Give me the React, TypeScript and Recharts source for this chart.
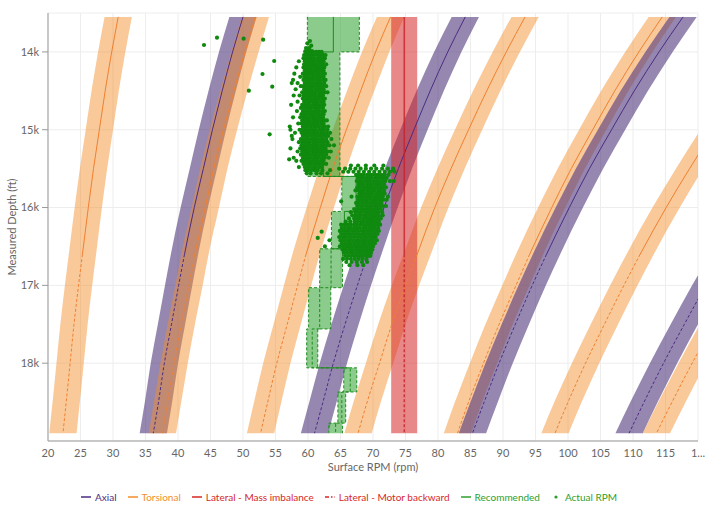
import { Area, CartesianGrid, ComposedChart, Label, Line, Scatter, XAxis, YAxis } from "recharts";

// depth samples (ft) shared by all vibration bands
const depths = [13550, 14000, 14500, 15000, 15500, 16000, 16600, 17000, 17500, 18000, 18500, 18900];

// band centre rpm at each depth (null = outside the chart)
const torsional1 = [30.8, 29.8, 28.8, 27.9, 27.0, 26.2, 25.3, 24.7, 24.0, 23.4, 22.8, 22.3];
const axial1 = [50.0, 48.4, 46.8, 45.3, 43.9, 42.5, 41.0, 40.1, 39.0, 37.9, 37.0, 36.2];
const torsional2 = [51.9, 50.3, 48.6, 47.0, 45.5, 44.2, 42.6, 41.7, 40.5, 39.4, 38.4, 37.6];
const torsional3 = [72.7, 70.4, 68.1, 65.9, 63.8, 61.9, 59.7, 58.4, 56.8, 55.2, 53.8, 52.7];
const axial2 = [84.2, 81.5, 78.8, 76.3, 73.9, 71.7, 69.2, 67.6, 65.7, 63.9, 62.3, 61.0];
const torsional4 = [93.4, 90.5, 87.5, 84.7, 82.0, 79.5, 76.8, 75.0, 72.9, 71.0, 69.1, 67.7];
const torsional5 = [114.5, 110.9, 107.2, 103.8, 100.5, 97.5, 94.1, 92.0, 89.4, 87.0, 84.7, 83.0];
const axial3 = [117.7, 114.0, 110.2, 106.7, 103.3, 100.2, 96.7, 94.5, 91.9, 89.4, 87.1, 85.3];
const torsional6 = [null, null, 126.6, 122.5, 118.7, 115.1, 111.1, 108.6, 105.6, 102.7, 100.0, 98.0];
const axial4 = [null, null, null, null, null, 128.5, 124.0, 121.2, 117.9, 114.7, 111.7, 109.4];
const torsional7 = [null, null, null, null, null, null, 128.8, 125.9, 122.4, 119.1, 116.0, 113.6];
const lateralMass = [74.8, 74.8, 74.8, 74.8, 74.8, 74.8, 74.8, 74.8, 74.8, 74.8, 74.8, 74.8];

const bandHalfWidth = 2.1;
const lateralHalfWidth = 2.0;
// centre lines are solid above this depth, dashed below
const forecastDepth = 16600;

// recommended rpm windows: [top depth, bottom depth, low rpm, high rpm]
const recommended: [number, number, number, number][] = [
    [13550, 14000, 59.9, 67.9],
    [14000, 15600, 59.9, 64.9],
    [15600, 16050, 65.2, 69.6],
    [16050, 16530, 63.6, 67.6],
    [16530, 17030, 61.8, 65.3],
    [17030, 17560, 60.1, 63.5],
    [17560, 18060, 59.8, 61.5],
    [18060, 18370, 65.5, 67.5],
    [18370, 18770, 64.6, 65.8],
    [18770, 18900, 63.2, 65.3],
];

// actual rpm readings grouped by depth
const actualRpmRows: [number, number[]][] = [
    [13860, [60.3]], [13890, [59.9]], [13920, [60.5]], [13950, [59.7, 60.2]], [13975, [60.1]], [13990, [59.6, 60.6]],
    [14000, [59.6, 60.0, 60.4, 60.8, 61.3, 61.7, 62.1]],
    [14040, [59.4, 59.8, 60.2, 60.6, 61.0, 61.5, 61.9, 62.3, 62.7]],
    [14080, [59.3, 59.7, 60.1, 60.5, 60.9, 61.4, 61.8, 62.2, 62.6]],
    [14120, [58.6, 59.5, 59.9, 60.3, 60.7, 61.1, 61.6, 62.0, 62.4]],
    [14160, [59.4, 59.8, 60.2, 60.6, 61.0, 61.4, 61.9, 62.3, 62.8]],
    [14200, [58.2, 59.3, 59.6, 60.0, 60.4, 60.9, 61.3, 61.7, 62.1, 62.5]],
    [14240, [59.5, 59.9, 60.3, 60.7, 61.2, 61.6, 62.0, 62.4]],
    [14280, [57.9, 59.2, 59.6, 60.0, 60.4, 60.8, 61.3, 61.7, 62.2, 62.6]],
    [14320, [58.8, 59.4, 59.8, 60.2, 60.7, 61.1, 61.5, 61.9, 62.4]],
    [14360, [57.7, 59.3, 59.7, 60.1, 60.5, 60.9, 61.4, 61.8, 62.3, 62.7]],
    [14400, [57.5, 58.4, 59.5, 59.9, 60.3, 60.7, 61.2, 61.6, 62.0, 62.5]],
    [14440, [58.9, 59.3, 59.7, 60.2, 60.6, 61.0, 61.5, 61.9, 62.3, 62.8]],
    [14480, [58.1, 59.4, 59.8, 60.2, 60.6, 61.1, 61.5, 61.9, 62.4]],
    [14520, [59.1, 59.5, 59.9, 60.4, 60.8, 61.2, 61.7, 62.1, 62.6, 63.0]],
    [14560, [57.8, 58.7, 59.3, 59.8, 60.2, 60.6, 61.0, 61.5, 61.9, 62.3]],
    [14600, [59.2, 59.6, 60.0, 60.4, 60.9, 61.3, 61.7, 62.2, 62.6]],
    [14640, [58.4, 59.4, 59.8, 60.2, 60.7, 61.1, 61.5, 62.0, 62.4]],
    [14680, [57.4, 59.1, 59.5, 59.9, 60.3, 60.8, 61.2, 61.6, 62.1, 62.5]],
    [14720, [58.9, 59.3, 59.7, 60.1, 60.5, 61.0, 61.4, 61.8, 62.3]],
    [14760, [58.3, 59.2, 59.6, 60.0, 60.4, 60.9, 61.3, 61.7, 62.2, 62.6]],
    [14800, [59.0, 59.4, 59.8, 60.3, 60.7, 61.1, 61.6, 62.0, 62.4]],
    [14840, [57.7, 58.8, 59.3, 59.7, 60.1, 60.6, 61.0, 61.4, 61.9, 62.3]],
    [14880, [59.1, 59.5, 59.9, 60.3, 60.8, 61.2, 61.6, 62.1, 62.5, 62.9]],
    [14920, [58.5, 59.0, 59.4, 59.8, 60.2, 60.7, 61.1, 61.5, 62.0, 62.4]],
    [14960, [57.2, 59.2, 59.6, 60.0, 60.4, 60.9, 61.3, 61.7, 62.2, 62.6, 63.1]],
    [15000, [57.3, 58.7, 59.1, 59.5, 59.9, 60.4, 60.8, 61.2, 61.7, 62.1, 62.5, 63.0]],
    [15040, [58.0, 59.0, 59.4, 59.8, 60.2, 60.7, 61.1, 61.5, 62.0, 62.4, 62.9, 63.4]],
    [15080, [57.5, 59.2, 59.6, 60.0, 60.5, 60.9, 61.3, 61.8, 62.2, 62.7, 63.1]],
    [15120, [57.6, 58.9, 59.3, 59.7, 60.1, 60.6, 61.0, 61.4, 61.9, 62.3, 62.8, 63.6]],
    [15160, [58.6, 59.1, 59.5, 59.9, 60.3, 60.8, 61.2, 61.6, 62.1, 62.5, 63.0]],
    [15200, [59.0, 59.4, 59.8, 60.2, 60.7, 61.1, 61.5, 62.0, 62.4, 62.9, 63.3, 64.0]],
    [15240, [57.3, 58.8, 59.2, 59.6, 60.0, 60.5, 60.9, 61.3, 61.8, 62.2, 62.7]],
    [15280, [58.4, 59.1, 59.5, 59.9, 60.3, 60.8, 61.2, 61.6, 62.1, 62.5, 63.0, 63.5]],
    [15320, [58.9, 59.3, 59.7, 60.1, 60.6, 61.0, 61.4, 61.9, 62.3, 62.8]],
    [15360, [57.8, 59.2, 59.6, 60.0, 60.4, 60.9, 61.3, 61.7, 62.2, 62.6, 63.2]],
    [15380, [57.1]],
    [15400, [58.2, 59.0, 59.4, 59.8, 60.2, 60.7, 61.1, 61.5, 62.0, 62.4]],
    [15440, [59.3, 59.7, 60.1, 60.5, 61.0, 61.4, 61.8, 62.3, 62.8]],
    [15460, [66.6, 67.7, 68.9, 70.2, 71.6]],
    [15480, [58.6, 59.5, 59.9, 60.3, 60.8, 61.2, 61.7, 62.1]],
    [15500, [64.8, 65.7, 66.5, 67.3, 68.1, 68.9, 69.7, 70.5, 71.4, 72.3, 73.1]],
    [15520, [59.6, 60.0, 60.5, 61.0, 61.5, 62.2, 63.4, 73.1]],
    [15540, [65.4, 66.2, 67.0, 67.8, 68.6, 69.4, 70.2, 71.0, 71.8, 72.6, 73.3]],
    [15560, [59.8, 60.4, 61.3, 62.0, 63.0]],
    [15580, [67.4, 67.8, 68.2, 68.6, 69.1, 69.5, 69.9, 70.4, 70.8, 71.3, 71.8, 72.4]],
    [15620, [67.7, 68.1, 68.5, 69.0, 69.4, 69.8, 70.3, 70.7, 71.1, 71.6, 72.1]],
    [15660, [67.5, 67.9, 68.3, 68.8, 69.2, 69.6, 70.1, 70.5, 70.9, 71.4, 71.9, 72.6, 73.2]],
    [15700, [67.8, 68.2, 68.6, 69.1, 69.5, 69.9, 70.4, 70.8, 71.2, 71.7]],
    [15740, [67.6, 68.0, 68.5, 68.9, 69.3, 69.8, 70.2, 70.6, 71.1, 71.5, 72.0]],
    [15780, [67.3, 67.8, 68.2, 68.6, 69.1, 69.5, 69.9, 70.3, 70.8, 71.2, 71.7]],
    [15820, [67.9, 68.3, 68.7, 69.2, 69.6, 70.0, 70.5, 70.9, 71.3, 71.8]],
    [15860, [66.7, 67.6, 68.0, 68.4, 68.9, 69.3, 69.7, 70.2, 70.6, 71.0, 71.5, 72.3]],
    [15900, [67.7, 68.1, 68.6, 69.0, 69.4, 69.9, 70.3, 70.7, 71.2, 71.6, 72.1]],
    [15920, [65.1]],
    [15940, [67.4, 67.8, 68.3, 68.7, 69.1, 69.6, 70.0, 70.4, 70.9, 71.3]],
    [15980, [67.6, 68.0, 68.4, 68.9, 69.3, 69.7, 70.2, 70.6, 71.0, 71.5, 72.0]],
    [16020, [67.1, 67.6, 68.1, 68.5, 69.0, 69.4, 69.8, 70.3, 70.7, 71.2]],
    [16060, [66.6, 67.3, 67.8, 68.2, 68.7, 69.1, 69.5, 70.0, 70.4, 70.8, 71.4]],
    [16100, [66.8, 67.3, 67.8, 68.2, 68.7, 69.1, 69.6, 70.0, 70.4, 70.9, 71.5]],
    [16140, [66.3, 67.1, 67.6, 68.0, 68.5, 68.9, 69.3, 69.8, 70.2, 70.7, 71.2]],
    [16180, [65.8, 66.5, 67.2, 67.7, 68.2, 68.6, 69.1, 69.5, 69.9, 70.4, 70.9]],
    [16220, [65.1, 65.6, 66.1, 66.6, 67.1, 67.5, 68.0, 68.4, 68.9, 69.3, 69.8, 70.2, 70.7, 71.1]],
    [16260, [65.2, 65.7, 66.2, 66.6, 67.1, 67.6, 68.0, 68.5, 68.9, 69.4, 69.8, 70.3, 70.8]],
    [16300, [64.9, 65.4, 65.9, 66.3, 66.8, 67.3, 67.7, 68.2, 68.6, 69.1, 69.5, 70.0, 70.5, 70.9]],
    [16310, [62.1]],
    [16340, [65.1, 65.6, 66.1, 66.5, 67.0, 67.5, 67.9, 68.4, 68.8, 69.3, 69.7, 70.2, 70.7]],
    [16380, [64.8, 65.3, 65.8, 66.3, 66.7, 67.2, 67.7, 68.1, 68.6, 69.0, 69.5, 69.9, 70.4]],
    [16390, [61.5]],
    [16420, [63.3, 65.0, 65.5, 66.0, 66.4, 66.9, 67.4, 67.8, 68.3, 68.7, 69.2, 69.6, 70.1, 70.6]],
    [16460, [65.2, 65.7, 66.2, 66.6, 67.1, 67.6, 68.0, 68.5, 68.9, 69.4, 69.8, 70.3]],
    [16500, [62.6, 64.9, 65.4, 65.9, 66.4, 66.8, 67.3, 67.8, 68.2, 68.7, 69.1, 69.6, 70.0]],
    [16540, [65.3, 65.8, 66.3, 66.7, 67.2, 67.7, 68.1, 68.6, 69.0, 69.5, 69.9]],
    [16580, [65.5, 66.0, 66.5, 66.9, 67.4, 67.9, 68.3, 68.8, 69.2, 69.7]],
    [16620, [65.7, 66.2, 66.7, 67.1, 67.6, 68.1, 68.5, 69.0, 69.4, 69.6]],
    [16660, [65.4, 66.0, 66.6, 67.2, 67.8, 68.4, 69.0]],
    [16700, [65.9, 66.7, 67.5, 68.3, 69.1]],
    [16740, [66.4, 67.6, 68.5]],
];

// isolated readings above the main clusters: [depth, rpm]
const actualRpmStray: [number, number][] = [
    [13817, 46.0], [13830, 50.1], [13843, 53.1], [13911, 44.0], [14117, 54.8],
    [14284, 53.0], [14447, 54.5], [14498, 50.9], [15059, 54.1],
];

const xTicks = [20, 25, 30, 35, 40, 45, 50, 55, 60, 65, 70, 75, 80, 85, 90, 95, 100, 105, 110, 115, 120];
const yTicks = [14000, 15000, 16000, 17000, 18000];

const PURPLE_FILL = "#50377d";
const PURPLE_LINE = "#4b2c82";
const ORANGE_FILL = "#f28e2b";
const ORANGE_LINE = "#f08030";
const RED_FILL = "#d62728";
const RED_LINE = "#c4232b";
const GREEN = "#2ca02c";
const GREEN_LINE = "#1e8c1e";
const DOT_GREEN = "#0f8a0f";
const TEXT = "#666";
const FONT = "Lato, 'Liberation Sans', sans-serif";

type BandRow = { depth: number; range: [number, number]; centre: number };

function makeBand(centres: (number | null)[], half: number): BandRow[] {
    const rows: BandRow[] = [];
    centres.forEach((c, i) => {
        if (c == null) return;
        rows.push({ depth: depths[i], range: [c - half, c + half], centre: c });
    });
    return rows;
}

const bands = [
    { key: "t1", rows: makeBand(torsional1, bandHalfWidth), kind: "torsional" },
    { key: "a1", rows: makeBand(axial1, bandHalfWidth), kind: "axial" },
    { key: "t2", rows: makeBand(torsional2, bandHalfWidth), kind: "torsional" },
    { key: "t3", rows: makeBand(torsional3, bandHalfWidth), kind: "torsional" },
    { key: "a2", rows: makeBand(axial2, bandHalfWidth), kind: "axial" },
    { key: "t4", rows: makeBand(torsional4, bandHalfWidth), kind: "torsional" },
    { key: "t5", rows: makeBand(torsional5, bandHalfWidth), kind: "torsional" },
    { key: "a3", rows: makeBand(axial3, bandHalfWidth), kind: "axial" },
    { key: "t6", rows: makeBand(torsional6, bandHalfWidth), kind: "torsional" },
    { key: "a4", rows: makeBand(axial4, bandHalfWidth), kind: "axial" },
    { key: "t7", rows: makeBand(torsional7, bandHalfWidth), kind: "torsional" },
];
const lateralRows = makeBand(lateralMass, lateralHalfWidth);

const recRows = recommended.flatMap(([top, bottom, lo, hi]) => [
    { depth: top, range: [lo, hi], mid: (lo + hi) / 2 },
    { depth: bottom, range: [lo, hi], mid: (lo + hi) / 2 },
]);
const recMidSolid = recRows.filter((r) => r.depth <= 16530);
const recMidDashed = recRows.filter((r) => r.depth >= 16530);

const actualRpm = [
    ...actualRpmRows.flatMap(([depth, list]) => list.map((rpm) => ({ depth, rpm }))),
    ...actualRpmStray.map(([depth, rpm]) => ({ depth, rpm })),
];

const legendItems = [
    { label: "Axial", color: PURPLE_LINE, icon: "line" },
    { label: "Torsional", color: ORANGE_FILL, icon: "line" },
    { label: "Lateral - Mass imbalance", color: RED_FILL, icon: "line" },
    { label: "Lateral - Motor backward", color: RED_FILL, icon: "dashdot" },
    { label: "Recommended", color: GREEN, icon: "line" },
    { label: "Actual RPM", color: GREEN, icon: "dot" },
];

function LegendIcon({ color, icon }: { color: string; icon: string }) {
    return (
        <svg width={10} height={10} style={{ marginRight: 4 }}>
            {icon === "line" && <line x1={0} x2={10} y1={5} y2={5} stroke={color} strokeWidth={1.5} />}
            {icon === "dashdot" && (
                <line x1={0} x2={10} y1={5} y2={5} stroke={color} strokeWidth={1.5} strokeDasharray="4 2 1.5 2" />
            )}
            {icon === "dot" && <circle cx={5} cy={5} r={1.6} fill={color} />}
        </svg>
    );
}

export default function App() {
    return (
        <div
            style={{
                position: "absolute",
                left: 0,
                top: 0,
                width: 715,
                height: 509,
                background: "#fff",
                fontFamily: FONT,
            }}
        >
            <ComposedChart
                layout="vertical"
                width={715}
                height={509}
                margin={{ top: 13, right: 17, bottom: 28, left: 0 }}
            >
                <CartesianGrid stroke="#ededed" />
                <XAxis
                    type="number"
                    domain={[20, 120]}
                    ticks={xTicks}
                    interval={0}
                    allowDataOverflow
                    height={40}
                    tickLine={false}
                    tickMargin={2}
                    stroke="#999"
                    tick={{ fill: TEXT, fontSize: 11, fontFamily: FONT }}
                    tickFormatter={(v) => (v === 120 ? "1..." : String(v))}
                >
                    <Label
                        value="Surface RPM (rpm)"
                        position="insideBottom"
                        offset={10}
                        style={{ fill: TEXT, fontSize: 11, fontFamily: FONT }}
                    />
                </XAxis>
                <YAxis
                    type="number"
                    dataKey="depth"
                    domain={[13500, 19000]}
                    ticks={yTicks}
                    allowDataOverflow
                    width={48}
                    tickMargin={3}
                    stroke="#999"
                    tick={{ fill: TEXT, fontSize: 11, fontFamily: FONT }}
                    tickFormatter={(v) => `${v / 1000}k`}
                >
                    <Label
                        value="Measured Depth (ft)"
                        angle={-90}
                        position="insideLeft"
                        offset={12}
                        style={{ fill: TEXT, fontSize: 11, fontFamily: FONT, textAnchor: "middle" }}
                    />
                </YAxis>

                {bands.map((b) => (
                    <Area
                        key={`${b.key}-band`}
                        data={b.rows}
                        dataKey="range"
                        type="monotone"
                        stroke="none"
                        fill={b.kind === "axial" ? PURPLE_FILL : ORANGE_FILL}
                        fillOpacity={b.kind === "axial" ? 0.6 : 0.48}
                        isAnimationActive={false}
                    />
                ))}
                {bands.map((b) => (
                    <Line
                        key={`${b.key}-solid`}
                        data={b.rows.filter((r) => r.depth <= forecastDepth)}
                        dataKey="centre"
                        type="monotone"
                        stroke={b.kind === "axial" ? PURPLE_LINE : ORANGE_LINE}
                        strokeWidth={1}
                        dot={false}
                        activeDot={false}
                        isAnimationActive={false}
                    />
                ))}
                {bands.map((b) => (
                    <Line
                        key={`${b.key}-dashed`}
                        data={b.rows.filter((r) => r.depth >= forecastDepth)}
                        dataKey="centre"
                        type="monotone"
                        stroke={b.kind === "axial" ? PURPLE_LINE : ORANGE_LINE}
                        strokeWidth={1}
                        strokeDasharray="3 2"
                        dot={false}
                        activeDot={false}
                        isAnimationActive={false}
                    />
                ))}

                <Area
                    data={lateralRows}
                    dataKey="range"
                    type="linear"
                    stroke="none"
                    fill={RED_FILL}
                    fillOpacity={0.55}
                    isAnimationActive={false}
                />
                <Line
                    data={lateralRows.filter((r) => r.depth <= forecastDepth)}
                    dataKey="centre"
                    stroke={RED_LINE}
                    strokeWidth={1.2}
                    dot={false}
                    activeDot={false}
                    isAnimationActive={false}
                />
                <Line
                    data={lateralRows.filter((r) => r.depth >= forecastDepth)}
                    dataKey="centre"
                    stroke={RED_LINE}
                    strokeWidth={1.2}
                    strokeDasharray="3 2"
                    dot={false}
                    activeDot={false}
                    isAnimationActive={false}
                />

                <Area
                    data={recRows}
                    dataKey="range"
                    type="linear"
                    stroke={GREEN_LINE}
                    strokeWidth={1}
                    strokeDasharray="3 2"
                    fill={GREEN}
                    fillOpacity={0.55}
                    isAnimationActive={false}
                />
                <Line
                    data={recMidSolid}
                    dataKey="mid"
                    type="linear"
                    stroke={GREEN_LINE}
                    strokeWidth={1}
                    dot={false}
                    activeDot={false}
                    isAnimationActive={false}
                />
                <Line
                    data={recMidDashed}
                    dataKey="mid"
                    type="linear"
                    stroke={GREEN_LINE}
                    strokeWidth={1}
                    strokeDasharray="3 2"
                    dot={false}
                    activeDot={false}
                    isAnimationActive={false}
                />

                <Scatter
                    data={actualRpm}
                    dataKey="rpm"
                    fill={DOT_GREEN}
                    isAnimationActive={false}
                    shape={(p: any) => <circle cx={p.cx} cy={p.cy} r={2.1} fill={DOT_GREEN} />}
                />
            </ComposedChart>

            <div
                style={{
                    position: "absolute",
                    left: 0,
                    width: 698,
                    top: 490,
                    display: "flex",
                    justifyContent: "center",
                    alignItems: "center",
                    gap: 11,
                    fontSize: 10,
                    lineHeight: "14px",
                }}
            >
                {legendItems.map((it) => (
                    <div key={it.label} style={{ display: "flex", alignItems: "center", color: it.color }}>
                        <LegendIcon color={it.color} icon={it.icon} />
                        <span>{it.label}</span>
                    </div>
                ))}
            </div>
        </div>
    );
}
